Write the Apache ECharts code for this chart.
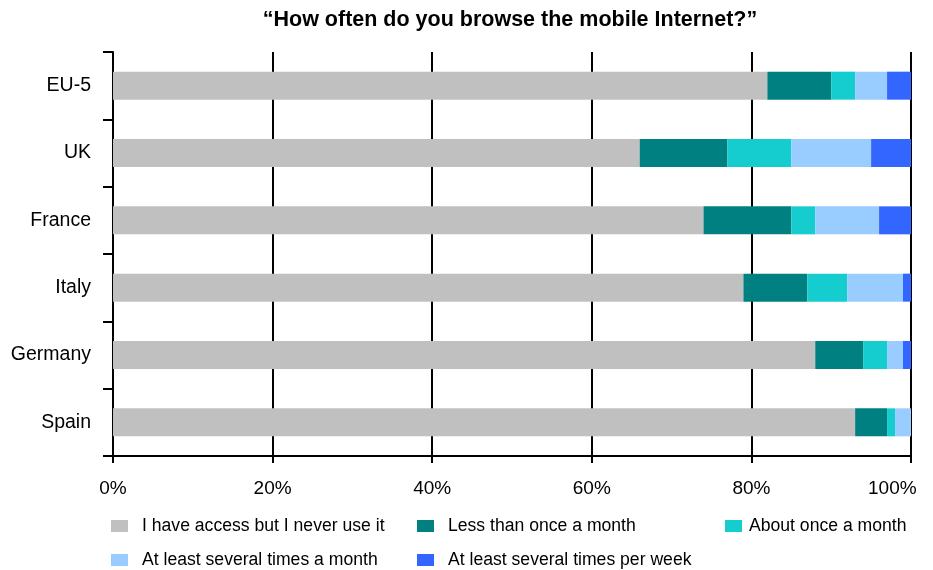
<!DOCTYPE html>
<html>
<head>
<meta charset="utf-8">
<script src="https://cdn.jsdelivr.net/npm/echarts@6/dist/echarts.min.js"></script>
<style>
  html, body { margin: 0; padding: 0; background: #ffffff; }
  #chart { width: 933px; height: 570px; }
</style>
</head>
<body>
<div id="chart"></div>
<script>
// Markets, listed top to bottom
const countries = ['EU-5', 'UK', 'France', 'Italy', 'Germany', 'Spain'];

// Share of mobile Internet users (%) per usage frequency
const neverUse        = [82, 66, 74, 79, 88, 93];
const lessThanMonthly = [8, 11, 11, 8, 6, 4];
const aboutMonthly    = [3, 8, 3, 5, 3, 1];
const severalMonthly  = [4, 10, 8, 7, 2, 2];
const severalWeekly   = [3, 5, 4, 1, 1, 0];

const seriesNames = [
  'I have access but I never use it',
  'Less than once a month',
  'About once a month',
  'At least several times a month',
  'At least several times per week'
];
const seriesValues = [neverUse, lessThanMonthly, aboutMonthly, severalMonthly, severalWeekly];
const seriesColors = ['#c0c0c0', '#008080', '#15cdcf', '#99ccff', '#3366ff'];

const xTicks = [0, 20, 40, 60, 80, 100];

const FONT = '"Liberation Sans", Arial, sans-serif';

// Legend laid out as a 3-column grid: one legend block per entry
const legendSpots = [
  { left: 111, top: 517, gap: 9 },
  { left: 417, top: 517, gap: 9 },
  { left: 725, top: 517, gap: 2 },
  { left: 111, top: 551, gap: 9 },
  { left: 417, top: 551, gap: 9 }
];

const chart = echarts.init(document.getElementById('chart'), null, { renderer: 'canvas' });

chart.setOption({
  animation: false,
  backgroundColor: '#ffffff',
  title: {
    text: '\u201CHow often do you browse the mobile Internet?\u201D',
    left: 505,
    textAlign: 'center',
    top: 4,
    textStyle: { fontFamily: FONT, fontSize: 21.5, fontWeight: 'bold', color: '#000000' }
  },
  legend: seriesNames.map((name, i) => ({
    data: [name],
    left: legendSpots[i].left,
    top: legendSpots[i].top,
    itemWidth: 17,
    itemHeight: 12,
    icon: 'rect',
    selectedMode: false,
    padding: 0,
    textStyle: {
      fontFamily: FONT, fontSize: 17.6, color: '#000000',
      padding: [0, 0, 0, legendSpots[i].gap], lineHeight: 18
    }
  })),
  grid: { left: 113, right: 22, top: 52, bottom: 114, containLabel: false, outerBoundsMode: 'none' },
  xAxis: {
    type: 'value',
    min: xTicks[0],
    max: xTicks[xTicks.length - 1],
    interval: xTicks[1] - xTicks[0],
    axisLine: { show: true, lineStyle: { color: '#000000', width: 2 } },
    axisTick: { show: true, length: 7, lineStyle: { color: '#000000', width: 2 } },
    axisLabel: {
      margin: 23,
      fontFamily: FONT,
      fontSize: 19,
      color: '#000000',
      // the last label is pulled inward so it stays on the canvas
      formatter: v => v === xTicks[xTicks.length - 1] ? '{m|' + v + '%}' : v + '%',
      rich: { m: { width: 86, align: 'left', fontFamily: FONT, fontSize: 19, color: '#000000' } }
    },
    splitLine: { show: true, lineStyle: { color: '#000000', width: 2 } }
  },
  yAxis: {
    type: 'category',
    data: countries,
    inverse: true,
    axisLine: { show: true, lineStyle: { color: '#000000', width: 2 } },
    axisTick: { show: true, length: 10, lineStyle: { color: '#000000', width: 2 } },
    axisLabel: { margin: 22, fontFamily: FONT, fontSize: 19.5, color: '#000000' },
    splitLine: { show: false }
  },
  series: seriesNames.map((name, i) => ({
    name: name,
    type: 'bar',
    stack: 'share',
    barWidth: 28,
    itemStyle: { color: seriesColors[i] },
    emphasis: { disabled: true },
    data: seriesValues[i]
  }))
});
</script>
</body>
</html>
